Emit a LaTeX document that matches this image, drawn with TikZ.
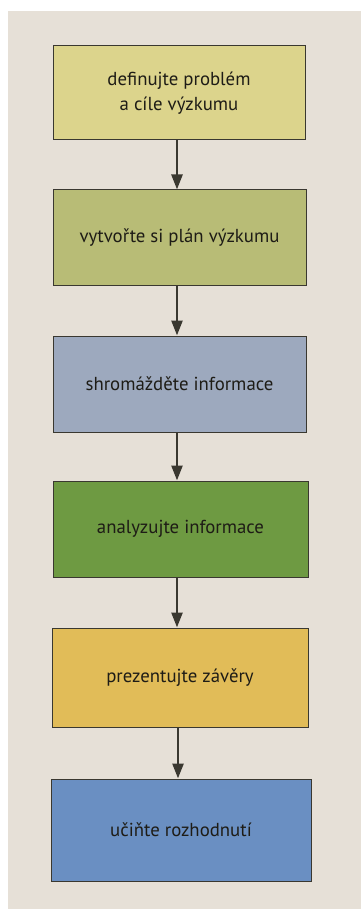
\documentclass[tikz,border=0pt]{standalone}
\usepackage{fontspec}
\setmainfont{PT Sans}
\usetikzlibrary{arrows.meta}
\definecolor{paper}{HTML}{E6E0D7}
\definecolor{edge}{HTML}{3A3830}
\definecolor{ink}{HTML}{1E1C16}
\definecolor{cA}{HTML}{DCD48C}
\definecolor{cB}{HTML}{B8BC76}
\definecolor{cC}{HTML}{9DA9BE}
\definecolor{cD}{HTML}{6E9A42}
\definecolor{cE}{HTML}{E1BC58}
\definecolor{cF}{HTML}{6A8FC2}
\tikzset{
  stepbox/.style={draw=edge, line width=1pt, inner sep=0pt, align=center,
    text=ink, font=\fontsize{18.8}{24.5}\selectfont, anchor=center},
  flow/.style={draw=edge, line width=2.6pt,
    -{Triangle[width=11pt,length=15pt]}, shorten >=0pt}
}
\begin{document}
\begin{tikzpicture}[x=1pt,y=-1pt]
\useasboundingbox (0,0) rectangle (361,909);
\fill[white] (0,0) rectangle (361,909);
\fill[paper] (8,11) rectangle (361,909);
\node[stepbox, fill=cA, minimum width=252pt, minimum height=94pt] (b1) at (179,93)
  {definujte problém\\a cíle výzkumu};
\node[stepbox, fill=cB, minimum width=253pt, minimum height=95pt] (b2) at (179.5,237.5)
  {vytvořte si plán výzkumu};
\node[stepbox, fill=cC, minimum width=253pt, minimum height=96pt] (b3) at (179.5,384)
  {shromážděte informace};
\node[stepbox, fill=cD, minimum width=255pt, minimum height=96pt] (b4) at (180.5,529)
  {analyzujte informace};
\node[stepbox, fill=cE, minimum width=256pt, minimum height=99pt] (b5) at (180,677.5)
  {prezentujte závěry};
\node[stepbox, fill=cF, minimum width=260pt, minimum height=102pt] (b6) at (181,830)
  {učiňte rozhodnutí};
\draw[flow] (b1.south -| 177,0) -- (b2.north -| 177,0);
\draw[flow] (b2.south -| 177,0) -- (b3.north -| 177,0);
\draw[flow] (b3.south -| 177,0) -- (b4.north -| 177,0);
\draw[flow] (b4.south -| 177,0) -- (b5.north -| 177,0);
\draw[flow] (b5.south -| 178,0) -- (b6.north -| 178,0);
\end{tikzpicture}
\end{document}
